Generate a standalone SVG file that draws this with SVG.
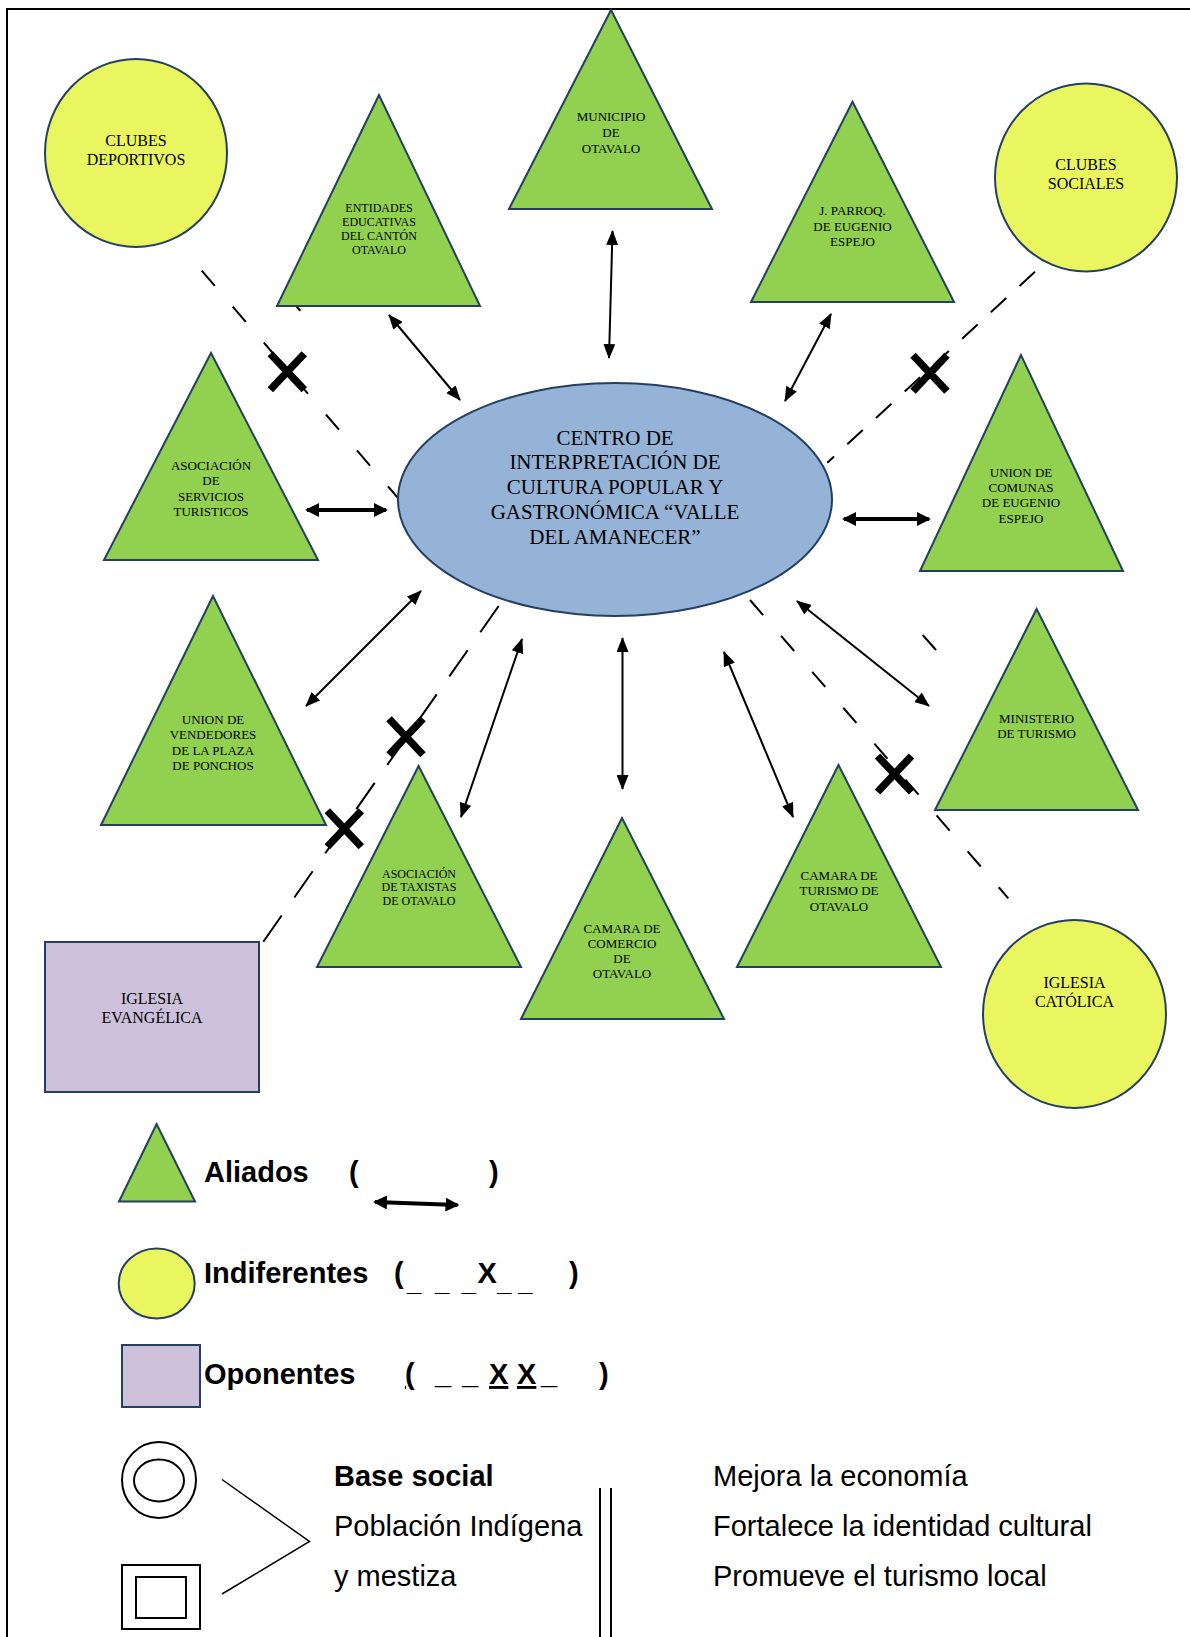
<svg xmlns="http://www.w3.org/2000/svg" width="1190" height="1637" viewBox="0 0 1190 1637">
<style>
.tri{fill:#92D050;stroke:#243F60;stroke-width:2}
.yel{fill:#E9F65F;stroke:#243F60;stroke-width:2}
.blu{fill:#95B3D7;stroke:#243F60;stroke-width:2}
.pur{fill:#CCC0DA;stroke:#243F60;stroke-width:2}
.lbl{font-family:"Liberation Serif","Times New Roman",serif;fill:#000;text-anchor:middle}
.s12{font-size:12px}
.s13{font-size:13px}
.s16{font-size:16px}
.s21{font-size:21px}
.arr{stroke:#000;stroke-width:2;fill:none;marker-start:url(#ah);marker-end:url(#ah)}
.arrk{stroke:#000;stroke-width:4;fill:none;marker-start:url(#ahk);marker-end:url(#ahk)}
.dash{stroke:#000;stroke-width:2;fill:none}
.xm{stroke:#000;stroke-width:7.5;fill:none;stroke-linecap:butt}
.leg{font-family:"Liberation Sans",Arial,sans-serif;font-size:29px;fill:#000}
.us{font-size:26px}
.b{font-weight:bold}
.u{text-decoration:underline}
.ln{stroke:#000;fill:none}
</style>
<defs>
<marker id="ah" viewBox="0 0 15 12" refX="14" refY="6" markerWidth="15" markerHeight="12" orient="auto-start-reverse" markerUnits="userSpaceOnUse"><path d="M0,0 L15,6 L0,12 z" fill="#000"/></marker>
<marker id="ahk" viewBox="0 0 14 14" refX="12" refY="7" markerWidth="14" markerHeight="14" orient="auto-start-reverse" markerUnits="userSpaceOnUse"><path d="M0,0 L14,7 L0,14 z" fill="#000"/></marker>
<path id="xmark" class="xm" d="M-17,-18 L17,18 M17,-18 L-17,18"/>
</defs>
<rect width="1190" height="1637" fill="#fff"/>
<path d="M7,1637 L7,9 L1190,9" fill="none" stroke="#000" stroke-width="2"/>

<g id="connectors">
<line class="arr" x1="389" y1="315" x2="460" y2="400"/>
<line class="arr" x1="612.5" y1="231" x2="609" y2="358"/>
<line class="arr" x1="831" y1="314" x2="785" y2="401"/>
<line class="arrk" x1="307" y1="510" x2="386" y2="510"/>
<line class="arrk" x1="844" y1="519" x2="929" y2="519"/>
<line class="arr" x1="421" y1="591" x2="306" y2="706"/>
<line class="arr" x1="522" y1="639" x2="461" y2="817"/>
<line class="arr" x1="622.5" y1="638" x2="622.5" y2="789"/>
<line class="arr" x1="724" y1="652" x2="793" y2="817"/>
<line class="arr" x1="797" y1="601" x2="929" y2="706"/>
<line class="dash" x1="201.7" y1="270.7" x2="398" y2="498" stroke-dasharray="20 27.5"/>
<line class="dash" x1="296.6" y1="306.7" x2="300.4" y2="310.7"/>
<line class="dash" x1="1035" y1="271.7" x2="827.3" y2="462.7" stroke-dasharray="21 18"/>
<line class="dash" x1="263.3" y1="941.7" x2="501.7" y2="601.7" stroke-dasharray="32 22"/>
<line class="dash" x1="750" y1="600" x2="1008.3" y2="898.3" stroke-dasharray="20 27.5"/>
<line class="dash" x1="922.7" y1="635" x2="936" y2="650"/>
<use href="#xmark" x="287.3" y="371.7"/>
<use href="#xmark" x="930" y="373.3"/>
<use href="#xmark" x="406" y="736.7"/>
<use href="#xmark" x="344.3" y="828.8"/>
<use href="#xmark" x="894.5" y="774"/>
</g>

<g id="clubes-deportivos">
<ellipse class="yel" cx="136" cy="153" rx="91" ry="94"/>
<text class="lbl s16" x="136" y="146">CLUBES</text>
<text class="lbl s16" x="136" y="165">DEPORTIVOS</text>
</g>
<g id="entidades-educativas">
<polygon class="tri" points="379,95 277,306 480,306"/>
<text class="lbl s12" x="379" y="212">ENTIDADES</text>
<text class="lbl s12" x="379" y="226">EDUCATIVAS</text>
<text class="lbl s12" x="379" y="239.5">DEL CANTÓN</text>
<text class="lbl s12" x="379" y="254">OTAVALO</text>
</g>
<g id="municipio">
<polygon class="tri" points="611,10 509,209 712,209"/>
<text class="lbl s13" x="611" y="121">MUNICIPIO</text>
<text class="lbl s13" x="611" y="137">DE</text>
<text class="lbl s13" x="611" y="153">OTAVALO</text>
</g>
<g id="j-parroq">
<polygon class="tri" points="852.5,101.7 751,302 954,302"/>
<text class="lbl s13" x="852.5" y="214.5">J. PARROQ.</text>
<text class="lbl s13" x="852.5" y="230.5">DE EUGENIO</text>
<text class="lbl s13" x="852.5" y="245.5">ESPEJO</text>
</g>
<g id="clubes-sociales">
<ellipse class="yel" cx="1086" cy="177.5" rx="91" ry="94"/>
<text class="lbl s16" x="1086" y="170">CLUBES</text>
<text class="lbl s16" x="1086" y="189">SOCIALES</text>
</g>
<g id="servicios-turisticos">
<polygon class="tri" points="211,353 104,560 318,560"/>
<text class="lbl s13" x="211" y="469.5">ASOCIACIÓN</text>
<text class="lbl s13" x="211" y="484.5">DE</text>
<text class="lbl s13" x="211" y="500.5">SERVICIOS</text>
<text class="lbl s13" x="211" y="515.5">TURISTICOS</text>
</g>
<g id="centro">
<ellipse class="blu" cx="615" cy="499.5" rx="217" ry="116.5"/>
<text class="lbl s21" x="615" y="445">CENTRO DE</text>
<text class="lbl s21" x="615" y="469">INTERPRETACIÓN DE</text>
<text class="lbl s21" x="615" y="494">CULTURA POPULAR Y</text>
<text class="lbl s21" x="615" y="519">GASTRONÓMICA “VALLE</text>
<text class="lbl s21" x="615" y="544">DEL AMANECER”</text>
</g>
<g id="union-comunas">
<polygon class="tri" points="1021,355 920,571 1123,571"/>
<text class="lbl s13" x="1021" y="476.5">UNION DE</text>
<text class="lbl s13" x="1021" y="491.5">COMUNAS</text>
<text class="lbl s13" x="1021" y="506.5">DE EUGENIO</text>
<text class="lbl s13" x="1021" y="522.5">ESPEJO</text>
</g>
<g id="union-vendedores">
<polygon class="tri" points="213,596 101,825 326,825"/>
<text class="lbl s13" x="213" y="723.5">UNION DE</text>
<text class="lbl s13" x="213" y="739">VENDEDORES</text>
<text class="lbl s13" x="213" y="754.5">DE LA PLAZA</text>
<text class="lbl s13" x="213" y="770">DE PONCHOS</text>
</g>
<g id="ministerio-turismo">
<polygon class="tri" points="1036.6,609 935,810 1138,810"/>
<text class="lbl s13" x="1036.6" y="722.5">MINISTERIO</text>
<text class="lbl s13" x="1036.6" y="737.5">DE TURISMO</text>
</g>
<g id="taxistas">
<polygon class="tri" points="418.6,766 317,967 521,967"/>
<text class="lbl s12" x="419" y="878">ASOCIACIÓN</text>
<text class="lbl s12" x="419" y="891">DE TAXISTAS</text>
<text class="lbl s12" x="419" y="905">DE OTAVALO</text>
</g>
<g id="camara-comercio">
<polygon class="tri" points="622,818 521,1019 724,1019"/>
<text class="lbl s13" x="622" y="932.5">CAMARA DE</text>
<text class="lbl s13" x="622" y="947.5">COMERCIO</text>
<text class="lbl s13" x="622" y="962.5">DE</text>
<text class="lbl s13" x="622" y="977.5">OTAVALO</text>
</g>
<g id="camara-turismo">
<polygon class="tri" points="838.5,765 737,967 941,967"/>
<text class="lbl s13" x="839" y="879.5">CAMARA DE</text>
<text class="lbl s13" x="839" y="894.5">TURISMO DE</text>
<text class="lbl s13" x="839" y="910.5">OTAVALO</text>
</g>
<g id="iglesia-evangelica">
<rect class="pur" x="45" y="942" width="214" height="150"/>
<text class="lbl s16" x="152" y="1004">IGLESIA</text>
<text class="lbl s16" x="152" y="1023">EVANGÉLICA</text>
</g>
<g id="iglesia-catolica">
<ellipse class="yel" cx="1074.5" cy="1014" rx="91.5" ry="94"/>
<text class="lbl s16" x="1074.5" y="988">IGLESIA</text>
<text class="lbl s16" x="1074.5" y="1007">CATÓLICA</text>
</g>

<g id="legend">
<polygon class="tri" points="156.6,1124 119,1201.5 195,1201.5"/>
<text class="leg b" x="204" y="1182">Aliados</text>
<text class="leg b" x="349" y="1182">(</text>
<text class="leg b" x="489" y="1182">)</text>
<line class="arrk" x1="375" y1="1202" x2="457.5" y2="1205"/>

<ellipse class="yel" cx="156.7" cy="1283.5" rx="38" ry="35"/>
<text class="leg b" x="204" y="1283">Indiferentes</text>
<text class="leg b" x="394" y="1283">(</text>
<text class="leg b" x="477.5" y="1283">X</text>
<text class="leg b" x="569" y="1283">)</text>
<text class="leg b us" x="407 421.5 435 449.5 461.5" y="1291">_ _ _</text>
<text class="leg b us" x="497 511.5 518" y="1291">_ _</text>

<rect class="pur" x="122" y="1345" width="78" height="62"/>
<text class="leg b" x="204" y="1384">Oponentes</text>
<text class="leg b u" x="405" y="1384">(</text>
<text class="leg b" x="435 449 462" y="1384">_ _</text>
<text class="leg b u" x="489" y="1384">X</text>
<text class="leg b u" x="517" y="1384">X</text>
<text class="leg b" x="541" y="1384">_</text>
<text class="leg b" x="599" y="1384">)</text>

<ellipse class="ln" cx="159" cy="1480" rx="37" ry="38" stroke-width="2"/>
<ellipse class="ln" cx="159" cy="1480.5" rx="25" ry="21" stroke-width="2"/>
<rect class="ln" x="122" y="1565" width="78" height="64" stroke-width="2"/>
<rect class="ln" x="136" y="1577" width="50" height="41" stroke-width="2"/>
<polyline class="ln" points="222,1479.5 309.5,1541.5 222,1594" stroke-width="1.5"/>
<text class="leg b" x="334" y="1486">Base social</text>
<text class="leg" x="334" y="1535.5">Población Indígena</text>
<text class="leg" x="334" y="1585.5">y mestiza</text>
<line class="ln" x1="600" y1="1488" x2="600" y2="1637" stroke-width="2"/>
<line class="ln" x1="611" y1="1488" x2="611" y2="1637" stroke-width="2"/>
<text class="leg" x="713" y="1486">Mejora la economía</text>
<text class="leg" x="713" y="1535.5">Fortalece la identidad cultural</text>
<text class="leg" x="713" y="1585.5">Promueve el turismo local</text>
</g>
</svg>
